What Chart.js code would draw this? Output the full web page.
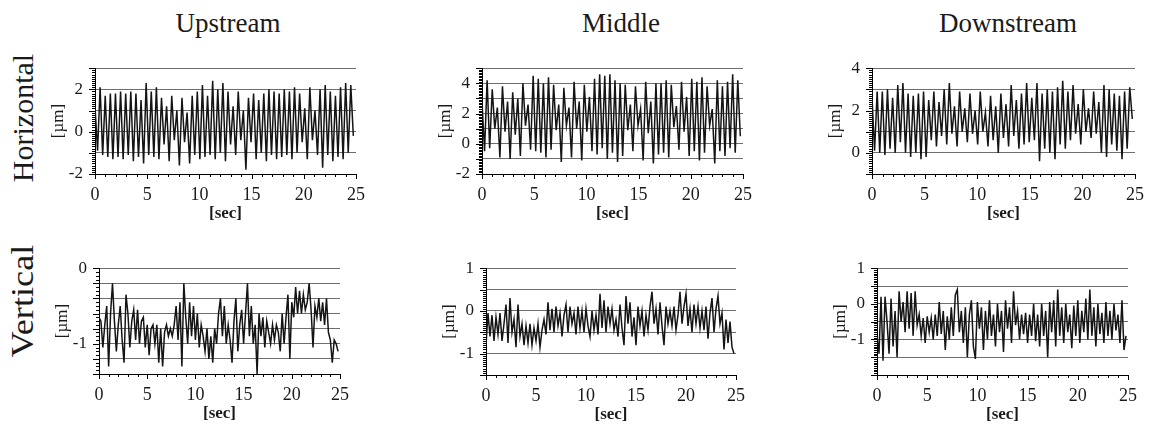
<!DOCTYPE html>
<html>
<head>
<meta charset="utf-8">
<script src="https://cdn.jsdelivr.net/npm/chart.js"></script>
<style>
  body { margin: 0; background: #fff; }
  #page { position: relative; width: 1154px; height: 429px; overflow: hidden; font-family: "Liberation Serif", "Times New Roman", serif; color: #1a1a1a; }
  canvas { position: absolute; }
  .col { position: absolute; width: 240px; text-align: center; font-size: 27px; line-height: 27px; top: 10px; }
  .row { position: absolute; width: 200px; height: 30px; text-align: center; font-size: 30px; line-height: 30px; transform: rotate(-90deg); }
</style>
</head>
<body>
<div id="page">
  <div class="col" style="left:108px">Upstream</div>
  <div class="col" style="left:501px">Middle</div>
  <div class="col" style="left:888px">Downstream</div>
  <div class="row" style="left:-77px; top:103px">Horizontal</div>
  <div class="row" style="left:-77px; top:286px; font-size:31px; transform: rotate(-90deg) scaleX(1.17)">Vertical</div>
  <canvas id="c1"></canvas>
  <canvas id="c2"></canvas>
  <canvas id="c3"></canvas>
  <canvas id="c4"></canvas>
  <canvas id="c5"></canvas>
  <canvas id="c6"></canvas>
</div>
<script>
// sample spacing [sec]
const H_STEP = 0.245;
const V_STEP = 0.2;
const xTicks = [0, 5, 10, 15, 20, 25];

// gridlines and labelled values of each y axis
const hUpGrid = [-2, -1, 0, 1, 2, 3], hUpLabels = [-2, 0, 2];
const hMidGrid = [-2, -1, 0, 1, 2, 3, 4, 5], hMidLabels = [-2, 0, 2, 4];
const hDownGrid = [-1, 0, 1, 2, 3, 4], hDownLabels = [0, 2, 4];
const vUpGrid = [-1.4, -1.2, -1, -0.8, -0.6, -0.4, -0.2, 0], vUpLabels = [-1, 0];
const vMidGrid = [-1.5, -1, -0.5, 0, 0.5, 1], vMidLabels = [-1, 0, 1];
const vDownGrid = [-2, -1.5, -1, -0.5, 0, 0.5, 1], vDownLabels = [-1, 0, 1];

// horizontal displacement [um]
const hUpstream = [
  1.2, -0.9, 2.1, -1.1, 1.7, -1.2, 1.8, -1.3, 1.8, -1.2,
  1.9, -1.3, 1.8, -1.1, 1.9, -1.4, 1.8, -1.2, 1.5, -1.5,
  2.3, -1.1, 1.9, -1.2, 2.1, -1.3, 1.6, -0.6, 1.2, -1.4,
  1.7, -0.4, 1.0, -1.6, 1.6, -0.5, 0.9, -1.5, 1.7, -1.1,
  1.9, -1.3, 2.2, -1.2, 1.7, -1.1, 2.4, -1.3, 2.0, -1.0,
  2.3, -1.4, 1.9, -0.6, 1.2, -1.1, 1.9, -0.4, 1.0, -1.8,
  1.6, -0.5, 1.8, -1.3, 1.5, -1.0, 1.8, -1.4, 2.0, -1.1,
  1.9, -1.3, 1.8, -1.2, 2.0, -1.1, 1.9, -1.3, 2.1, -1.0,
  1.8, -0.5, 1.1, -1.3, 2.1, -0.4, 1.0, -1.1, 2.0, -1.7,
  2.2, -1.1, 1.9, -1.4, 1.7, -1.2, 2.1, -1.3, 2.3, -1.0,
  2.2, -0.2
];
const hMiddle = [
  2.8, -0.5, 4.2, -0.3, 3.6, 1.0, 2.4, -0.9, 3.8, 0.8,
  2.8, -1.0, 3.4, 0.6, 3.0, -0.8, 4.0, 1.2, 2.6, -0.4,
  4.5, -0.5, 4.3, -0.6, 4.0, -0.9, 4.4, -0.4, 3.9, 0.9,
  2.6, -1.2, 3.7, 1.2, 2.4, -0.9, 4.1, 1.0, 2.8, -1.1,
  3.9, 0.8, 3.1, -0.5, 4.3, -0.7, 4.6, -0.3, 4.5, -1.0,
  4.6, -0.6, 4.2, -1.2, 4.0, -0.8, 3.9, 0.9, 2.6, -0.5,
  3.8, 1.2, 2.3, -1.1, 4.1, 0.7, 2.8, -1.3, 4.0, -0.7,
  4.0, -0.6, 4.2, -0.9, 3.9, 1.1, 2.5, -0.4, 4.1, 0.8,
  3.1, -0.8, 4.3, -0.5, 4.1, -1.1, 4.4, -0.6, 3.8, 1.2,
  2.3, -1.3, 4.2, -0.5, 3.8, -0.8, 4.1, -0.3, 4.6, -0.6,
  4.2, 0.5
];
const hDownstream = [
  2.6, 0.1, 2.9, 0.0, 2.9, -0.1, 3.0, 0.2, 2.6, 0.0,
  3.2, 0.5, 3.3, 0.0, 2.8, -0.2, 2.7, 0.0, 2.8, -0.3,
  2.9, -0.2, 2.5, 0.6, 2.9, 0.3, 2.4, 0.8, 3.0, 0.4,
  3.3, 0.9, 2.2, 0.3, 2.9, 1.0, 2.1, 0.5, 2.8, 0.9,
  2.0, 0.4, 2.9, 1.0, 1.9, 0.3, 2.7, 0.6, 2.2, 0.0,
  2.8, 0.7, 2.3, 0.3, 3.2, 0.8, 2.5, 0.2, 2.8, 0.4,
  3.3, 0.5, 2.6, 0.6, 3.3, -0.4, 2.8, 0.2, 3.0, 0.0,
  2.9, -0.3, 3.1, 0.4, 3.4, 0.2, 2.9, 0.6, 3.2, 0.9,
  2.3, 0.4, 3.0, 1.0, 2.1, 0.7, 2.9, 0.9, 2.4, 0.0,
  3.2, -0.2, 3.0, 0.4, 2.8, 0.1, 2.7, -0.3, 2.9, 0.2,
  3.1, 1.6
];

// vertical displacement [um]
const vUpstream = [
  -0.65, -0.7, -1.05, -0.75, -0.5, -1.3, -0.6, -0.2, -0.7, -1.1,
  -0.75, -0.5, -0.95, -1.25, -0.35, -0.6, -1.05, -0.7, -0.55, -0.95,
  -0.55, -1.0, -0.7, -0.65, -1.05, -0.75, -1.15, -0.8, -0.75, -1.0,
  -0.75, -1.25, -0.8, -1.3, -0.85, -0.75, -0.9, -0.8, -0.9, -0.75,
  -0.5, -0.95, -0.45, -1.3, -0.2, -0.65, -1.0, -0.45, -0.9, -0.5,
  -0.95, -0.6, -1.05, -0.75, -0.9, -1.1, -0.8, -1.2, -0.9, -1.25,
  -0.8, -1.0, -0.6, -0.4, -0.9, -0.5, -1.0, -0.75, -0.95, -1.25,
  -0.7, -0.4, -1.1, -0.75, -0.55, -1.0, -0.6, -0.2, -0.9, -0.5,
  -1.0, -0.75, -1.4, -0.6, -0.9, -0.65, -1.05, -0.7, -0.85, -1.0,
  -0.75, -0.95, -0.75, -0.85, -1.1, -0.6, -1.0, -0.65, -0.35, -1.2,
  -0.45, -0.65, -0.25, -0.6, -0.3, -0.6, -0.35, -0.55, -0.45, -0.2,
  -0.55, -1.05, -0.5, -0.65, -0.4, -0.7, -0.45, -0.75, -0.4, -0.85,
  -0.95, -1.25, -0.95, -1.0, -1.1
];
const vMiddle = [
  -0.8, -0.05, -0.6, -0.1, -0.7, -0.15, -0.55, -0.05, -0.7, -0.3,
  0.15, -0.75, 0.3, -0.5, -0.2, -0.85, 0.15, -0.6, -0.3, -0.8,
  -0.35, -0.75, -0.3, -0.8, -0.4, -0.7, -0.3, -0.85, -0.45, -0.2,
  -0.55, 0.2, -0.45, 0.05, -0.5, 0.1, -0.35, -0.05, -0.6, -0.1,
  0.15, -0.5, 0.1, -0.3, -0.05, -0.55, 0.1, -0.4, 0.0, -0.5,
  0.05, -0.35, -0.6, 0.0, -0.45, -0.1, -0.55, 0.4, -0.4, 0.25,
  -0.5, 0.1, -0.3, 0.05, -0.45, -0.2, -0.6, 0.15, -0.4, -0.8,
  0.35, -0.3, 0.2, -0.6, -0.15, -0.8, 0.1, -0.35, 0.0, -0.6,
  -0.1, -0.45, 0.1, 0.45, -0.3, 0.05, -0.55, 0.2, -0.35, -0.8,
  0.1, -0.3, 0.0, -0.35, 0.1, -0.45, -0.1, 0.45, -0.3, 0.1,
  0.4, -0.35, 0.05, -0.5, 0.15, -0.3, 0.1, -0.4, 0.0, -0.45,
  0.1, -0.65, -0.05, 0.3, -0.5, 0.05, 0.35, -0.3, -0.05, -0.9,
  -0.2, -0.75, -0.25, -0.85, -1.0
];
const vDownstream = [
  -0.9, -1.4, 0.2, -1.6, 0.2, -0.5, -1.4, 0.15, -1.2, -0.2,
  -1.5, 0.35, -0.5, 0.05, -0.8, 0.35, -0.7, 0.3, -0.9, 0.35,
  -0.6, -0.3, -0.9, -0.4, -1.1, -0.35, -0.8, -0.4, -1.0, -0.3,
  -0.9, 0.05, -0.85, -0.2, -1.3, -0.35, -1.0, -0.1, -0.9, 0.25,
  0.4, -0.8, -0.2, -1.1, -0.1, -1.5, -0.3, 0.1, -1.2, -1.55,
  0.05, -0.7, -0.1, -1.3, -0.2, -1.0, 0.1, -0.9, -0.3, -1.2,
  0.0, -0.8, -0.2, -1.35, 0.1, -0.7, -0.1, -1.1, 0.35, -0.6,
  -0.2, -1.0, -0.3, -0.85, -0.25, -1.1, -0.3, -0.9, 0.0, -1.05,
  -0.3, -1.2, 0.0, -0.9, -0.2, -1.5, 0.05, -0.8, 0.1, -1.2,
  0.4, -0.9, -0.1, -1.1, 0.0, -0.8, -0.3, -1.25, -0.05, -0.9,
  0.1, -1.1, -0.2, -0.8, 0.15, -1.0, 0.4, -0.9, -0.1, -1.2,
  0.0, -0.85, -0.25, -1.1, 0.05, -0.9, -0.2, -1.0, 0.0, -0.75,
  -0.3, -1.1, 0.1, -1.3, -0.9
];

const FONT = "'Liberation Serif', 'Times New Roman', serif";
const Y_AXIS_W = 50, X_AXIS_H = 52, PAD_TOP = 12, PAD_RIGHT = 14;

// small ticks along both axes, taken from the chart scales
const minorTicks = {
  id: "minorTicks",
  afterDraw(chart, args, opts) {
    const { ctx, chartArea: a, scales: { x, y } } = chart;
    ctx.save();
    ctx.strokeStyle = "#000";
    ctx.lineWidth = 1;
    ctx.beginPath();
    for (let v = 0; v <= 25; v++) {
      const px = Math.round(x.getPixelForValue(v)) + 0.5;
      ctx.moveTo(px, a.bottom);
      ctx.lineTo(px, a.bottom + (v % 5 === 0 ? 5 : 3));
    }
    const n = Math.round((y.max - y.min) / opts.step);
    const per = Math.round(opts.major / opts.step);
    for (let i = 0; i <= n; i++) {
      const py = Math.round(y.getPixelForValue(y.min + i * opts.step)) + 0.5;
      ctx.moveTo(a.left, py);
      ctx.lineTo(a.left - (i % per === 0 ? 6 : 3), py);
    }
    ctx.stroke();
    ctx.restore();
  },
};

function makePanel(id, area, values, step, grid, labels, minorStep) {
  const cv = document.getElementById(id);
  const w = Y_AXIS_W + area.w + PAD_RIGHT;
  const h = PAD_TOP + area.h + X_AXIS_H;
  cv.width = w; cv.height = h;
  cv.style.left = (area.left - Y_AXIS_W) + "px";
  cv.style.top = (area.top - PAD_TOP) + "px";
  cv.style.width = w + "px"; cv.style.height = h + "px";
  const yMin = grid[0], yMax = grid[grid.length - 1];

  new Chart(cv.getContext("2d"), {
    type: "line",
    data: {
      datasets: [{
        data: values.map((v, i) => ({ x: i * step, y: v })),
        borderColor: "#141414",
        borderWidth: 1.5,
        pointRadius: 0,
        tension: 0,
      }],
    },
    options: {
      responsive: false,
      animation: false,
      events: [],
      layout: { padding: { top: PAD_TOP, right: PAD_RIGHT, left: 0, bottom: 0 } },
      plugins: {
        legend: { display: false },
        tooltip: { enabled: false },
        minorTicks: { step: minorStep, major: grid[1] - grid[0] },
      },
      scales: {
        x: {
          type: "linear",
          min: 0,
          max: 25,
          afterBuildTicks: (s) => { s.ticks = xTicks.map((v) => ({ value: v })); },
          ticks: { color: "#1a1a1a", padding: 10, maxRotation: 0, autoSkip: false, font: { family: FONT, size: 18 } },
          grid: { display: false, drawTicks: false },
          border: { color: "#000", width: 1 },
          title: { display: true, text: "[sec]", color: "#1a1a1a", padding: { top: 0, bottom: 2 }, font: { family: FONT, size: 17, weight: "bold" } },
          afterFit: (s) => { s.height = X_AXIS_H; },
        },
        y: {
          min: yMin,
          max: yMax,
          afterBuildTicks: (s) => { s.ticks = grid.map((v) => ({ value: v })); },
          ticks: {
            autoSkip: false,
            padding: 12,
            color: "#1a1a1a",
            font: { family: FONT, size: 17 },
            callback: (v) => (labels.some((l) => Math.abs(l - v) < 1e-6) ? String(Math.round(v)) : ""),
          },
          grid: { color: "#6e6e6e", drawTicks: false },
          border: { color: "#000", width: 1 },
          title: { display: true, text: "[µm]", color: "#1a1a1a", padding: { top: 3, bottom: 0 }, font: { family: FONT, size: 17 } },
          afterFit: (s) => { s.width = Y_AXIS_W; },
        },
      },
    },
    plugins: [minorTicks],
  });
}

makePanel("c1", { left: 95, top: 58, w: 266, h: 116 }, hUpstream, H_STEP, hUpGrid, hUpLabels, 0.1);
makePanel("c2", { left: 482, top: 58, w: 266, h: 116 }, hMiddle, H_STEP, hMidGrid, hMidLabels, 0.1);
makePanel("c3", { left: 872, top: 58, w: 268, h: 116 }, hDownstream, H_STEP, hDownGrid, hDownLabels, 0.1);
makePanel("c4", { left: 99, top: 258, w: 246, h: 116 }, vUpstream, V_STEP, vUpGrid, vUpLabels, 0.05);
makePanel("c5", { left: 486, top: 258, w: 255, h: 117 }, vMiddle, V_STEP, vMidGrid, vMidLabels, 0.05);
makePanel("c6", { left: 877, top: 258, w: 256, h: 117 }, vDownstream, V_STEP, vDownGrid, vDownLabels, 0.05);
</script>
</body>
</html>
